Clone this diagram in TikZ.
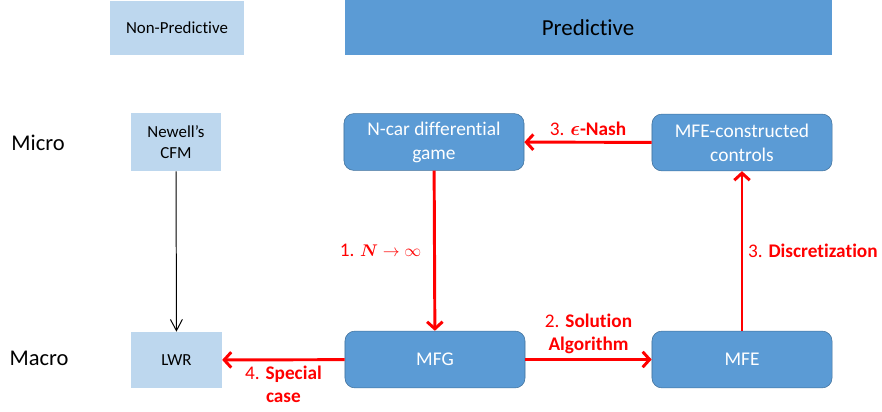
\documentclass[tikz,border=0pt]{standalone}
\usepackage{fontspec}
\setmainfont{Carlito}[Ligatures={NoCommon,NoRare}]
\usepackage{amsmath}
\usetikzlibrary{arrows.meta}

\definecolor{boxblue}{HTML}{5B9BD5}
\definecolor{boxedge}{HTML}{41719C}
\definecolor{paleblue}{HTML}{BDD7EE}
\definecolor{linkred}{HTML}{FF0000}

\begin{document}
\begin{tikzpicture}[x=0.025cm,y=-0.025cm,
    palebox/.style={fill=paleblue,inner sep=0pt,align=center,
      font=\fontsize{12}{15.2}\selectfont},
    gamebox/.style={draw=boxedge,fill=boxblue,rounded corners=7pt,text=white,
      minimum width=4.5cm,minimum height=1.42cm,inner sep=0pt,align=center,
      font=\fontsize{13.8}{17}\selectfont},
    scalelabel/.style={font=\fontsize{16}{19}\selectfont},
    redlink/.style={draw=linkred,line width=2.1pt,
      -{Straight Barb[length=5pt,width=11pt]}},
    redtext/.style={text=linkred,align=center,font=\fontsize{13.7}{16.3}\selectfont},
  ]
    \useasboundingbox (0,0) rectangle (882,412);
    % header
    \node[palebox,minimum width=3.35cm,minimum height=1.35cm] (nonpred) at (177,28) {Non-Predictive};
    \fill[boxblue] (345,0) rectangle (832,55);
    \node[font=\fontsize{16.3}{19}\selectfont] (pred) at (588,28) {Predictive};
    % rows
    \node[scalelabel] (micro) at (38,143) {Micro};
    \node[scalelabel] (macro) at (39,358) {Macro};
    \node[palebox,minimum width=2.25cm,minimum height=1.45cm] (newell) at (176,142) {Newell’s\\CFM};
    \node[palebox,minimum width=2.27cm,minimum height=1.4cm] (lwr) at (176.5,360) {LWR};
    \node[gamebox] (ncar) at (434,142) {N-car differential\\game};
    \node[gamebox] (mfec) at (742,142.5) {MFE-constructed\\controls};
    \node[gamebox] (mfg) at (435,359.5) {MFG};
    \node[gamebox] (mfe) at (742,359.5) {MFE};
    % links
    \draw[line width=0.7pt,-{Straight Barb[length=8pt,width=8.5pt]}] (newell) -- (lwr);
    \draw[redlink] (ncar) -- node[redtext,left,xshift=-5pt] {1. {\fontsize{11.5}{14}\selectfont$\boldsymbol{N}\rightarrow\infty$}} (mfg);
    \draw[redlink] (mfg) -- node[redtext,above] {2. \textbf{Solution}\\\textbf{Algorithm}} (mfe);
    \draw[redlink] (mfe) -- node[redtext,right] {3. \textbf{Discretization}} (mfec);
    \draw[redlink] (mfec) -- node[redtext,above] {3. $\boldsymbol{\epsilon}$\textbf{-Nash}} (ncar);
    \draw[redlink] (mfg) -- node[redtext,below] {4. \textbf{Special}\\\textbf{case}} (lwr);
\end{tikzpicture}
\end{document}
